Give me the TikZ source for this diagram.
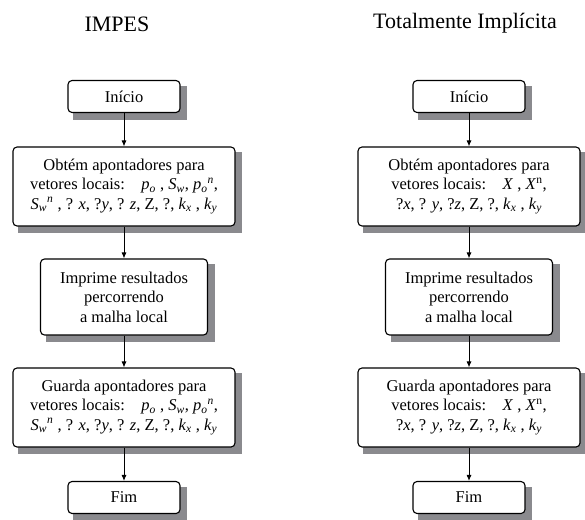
\documentclass[tikz,border=0pt]{standalone}
\usepackage{fontspec}
\setmainfont{Liberation Serif}
\usetikzlibrary{arrows.meta,backgrounds}
\definecolor{sombracor}{RGB}{138,138,142}
\newcommand{\vsub}[2]{\textit{#1}\textsubscript{\textit{#2}}}
\newcommand{\vsupn}{\textsuperscript{\textit{n}}}
\tikzset{
  titulo/.style={anchor=base, font=\fontsize{22}{26}\selectfont},
  caixa/.style={draw, line width=1.1pt, rounded corners=4pt, fill=white, align=center, inner sep=0pt},
  curta/.style={caixa, minimum width=112pt, minimum height=32pt},
  larga/.style={caixa, minimum width=222pt, minimum height=79pt},
  media/.style={caixa, minimum width=167pt, minimum height=76pt},
  sombra/.style={fill=sombracor, draw=sombracor, line width=0.5pt},
  seta/.style={-{Latex[length=6pt,width=5pt]}, line width=0.9pt}
}
\begin{document}
\begin{tikzpicture}[x=1pt, y=-1pt, font=\fontsize{16.5}{19.5}\selectfont]
  \useasboundingbox (0,0) rectangle (585,519);
  \node[titulo] (tit1) at (117,31) {IMPES};
  \node[titulo] (tit2) at (465,28.5) {Totalmente Implícita};
  \node[curta] (ini1) at (124,96.5) {Início};
  \node[larga] (obt1) at (124,186.5) {Obtém apontadores para\\ vetores locais:\quad \vsub{p}{o} , \vsub{S}{w}, \vsub{p}{o}\vsupn,\\ \vsub{S}{w}\vsupn\ , ? \textit{x}, ?\textit{y}, ? \textit{z}, Z, ?, \vsub{k}{x} , \vsub{k}{y}};
  \node[media] (imp1) at (124,297) {Imprime resultados\\ percorrendo\\ a malha local};
  \node[larga] (gua1) at (124,407.5) {Guarda apontadores para\\ vetores locais:\quad \vsub{p}{o} , \vsub{S}{w}, \vsub{p}{o}\vsupn,\\ \vsub{S}{w}\vsupn\ , ? \textit{x}, ?\textit{y}, ? \textit{z}, Z, ?, \vsub{k}{x} , \vsub{k}{y}};
  \node[curta] (fim1) at (124,497.5) {Fim};
  \node[curta] (ini2) at (469,96.5) {Início};
  \node[larga] (obt2) at (469,186.5) {Obtém apontadores para\\ vetores locais:\quad \textit{X} , \textit{X}\textsuperscript{n},\\ ?\textit{x}, ? \textit{y}, ?\textit{z}, Z, ?, \vsub{k}{x} , \vsub{k}{y}};
  \node[media] (imp2) at (469,297) {Imprime resultados\\ percorrendo\\ a malha local};
  \node[larga] (gua2) at (469,407.5) {Guarda apontadores para\\ vetores locais:\quad \textit{X} , \textit{X}\textsuperscript{n},\\ ?\textit{x}, ? \textit{y}, ?\textit{z}, Z, ?, \vsub{k}{x} , \vsub{k}{y}};
  \node[curta] (fim2) at (469,497.5) {Fim};
  \begin{pgfonlayer}{background}
    \foreach \n in {ini1,obt1,imp1,gua1,fim1,ini2,obt2,imp2,gua2,fim2}
      \filldraw[sombra] ([shift={(6,6)}]\n.north west) rectangle ([shift={(6,6)}]\n.south east);
  \end{pgfonlayer}
  \foreach \c in {1,2} {
    \draw[seta] (ini\c.south) -- (obt\c.north);
    \draw[seta] (obt\c.south) -- (imp\c.north);
    \draw[seta] (imp\c.south) -- (gua\c.north);
    \draw[seta] (gua\c.south) -- (fim\c.north);
  }
\end{tikzpicture}
\end{document}
